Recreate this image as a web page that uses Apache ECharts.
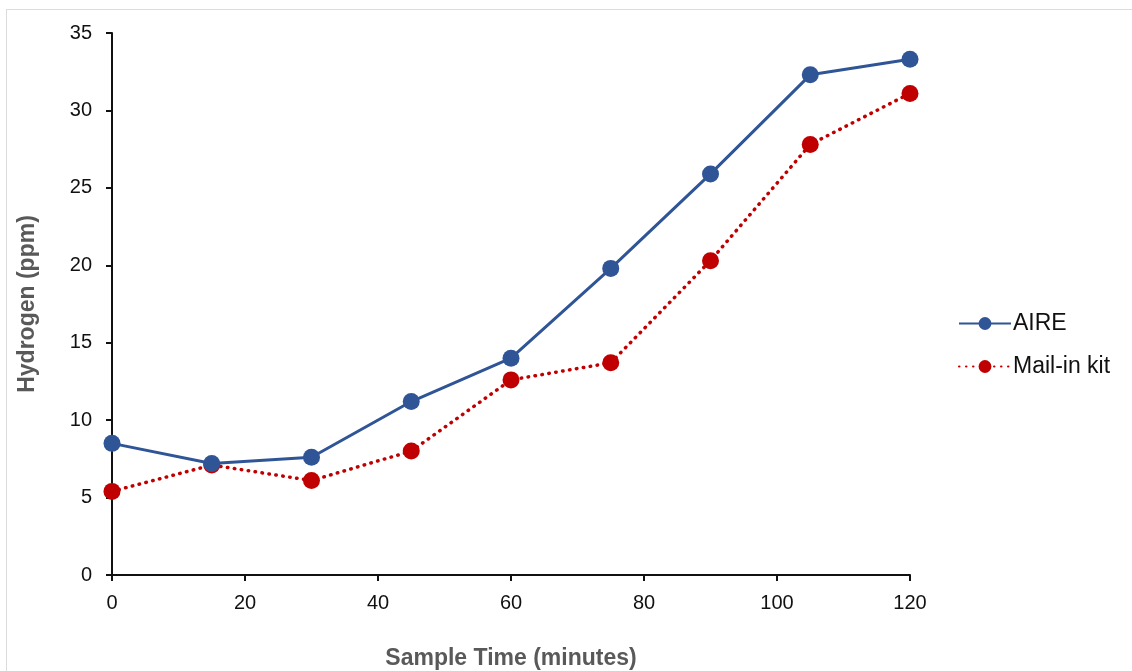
<!DOCTYPE html>
<html><head><meta charset="utf-8">
<script src="https://cdn.jsdelivr.net/npm/echarts@6/dist/echarts.min.js"></script>
<style>
html,body{margin:0;padding:0;background:#fff;}
#frame{position:absolute;left:6px;top:9px;right:0;bottom:0;border-top:1px solid #dcdcdc;border-left:1px solid #dcdcdc;}
#chart{position:absolute;left:0;top:0;width:1132px;height:671px;}
</style></head>
<body>
<div id="frame"></div>
<div id="chart"></div>
<script>
const times = [0, 15, 30, 45, 60, 75, 90, 105, 120];
const aire = [8.5, 7.2, 7.6, 11.2, 14.0, 19.8, 25.9, 32.3, 33.3];
const mailIn = [5.4, 7.1, 6.1, 8.0, 12.6, 13.7, 20.3, 27.8, 31.1];
const seriesNames = ['AIRE', 'Mail-in kit'];

const chart = echarts.init(document.getElementById('chart'), null, {renderer: 'canvas'});
const axisFont = {fontFamily: 'Liberation Sans, Arial, sans-serif', fontSize: 20, color: '#111'};
const titleFont = {fontFamily: 'Liberation Sans, Arial, sans-serif', fontSize: 23, fontWeight: 'bold', color: '#595959'};
chart.setOption({
  animation: false,
  backgroundColor: 'transparent',
  grid: {left: 112, right: 222, top: 33, bottom: 96, containLabel: false, outerBoundsMode: 'none'},
  legend: {
    orient: 'vertical', left: 953, top: 307, itemGap: 20, itemWidth: 52, itemHeight: 16,
    textStyle: {fontFamily: 'Liberation Sans, Arial, sans-serif', fontSize: 23, color: '#111', padding: [0, 0, 0, -3]},
    data: seriesNames
  },
  xAxis: {
    type: 'value', min: 0, max: 120, interval: 20,
    name: 'Sample Time (minutes)', nameLocation: 'middle', nameGap: 72,
    nameTextStyle: titleFont,
    axisLine: {lineStyle: {color: '#111', width: 2}},
    axisTick: {length: 6, lineStyle: {color: '#111', width: 2}},
    axisLabel: Object.assign({margin: 18}, axisFont),
    splitLine: {show: false}
  },
  yAxis: {
    type: 'value', min: 0, max: 35, interval: 5,
    name: 'Hydrogen (ppm)', nameLocation: 'middle', nameGap: 73,
    nameTextStyle: titleFont,
    axisLine: {show: true, lineStyle: {color: '#111', width: 2}},
    axisTick: {show: true, length: 6, lineStyle: {color: '#111', width: 2}},
    axisLabel: Object.assign({margin: 20}, axisFont),
    splitLine: {show: false}
  },
  series: [
    {
      name: seriesNames[0], type: 'line', data: times.map((t, i) => [t, aire[i]]),
      symbol: 'circle', symbolSize: 17,
      itemStyle: {color: '#2F5597'},
      lineStyle: {color: '#2F5597', width: 3, type: 'solid'},
      z: 3
    },
    {
      name: seriesNames[1], type: 'line', data: times.map((t, i) => [t, mailIn[i]]),
      symbol: 'circle', symbolSize: 17,
      itemStyle: {color: '#C00000'},
      lineStyle: {color: '#C00000', width: 3.5, type: [0.5, 6.5], cap: 'round'},
      z: 2
    }
  ]
});
</script>
</body></html>
